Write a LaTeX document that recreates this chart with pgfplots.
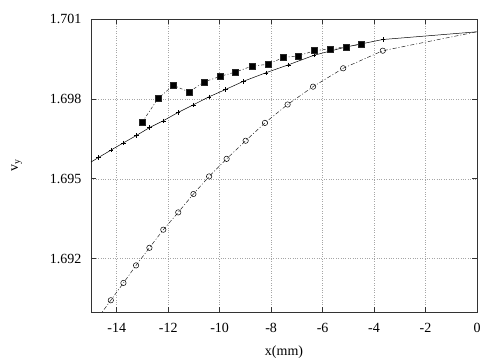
\documentclass[border=0pt]{standalone}
\usepackage{fontspec}
\setmainfont{Liberation Serif}
\usepackage{pgfplots}
\pgfplotsset{compat=1.18}
\begin{document}
\begin{tikzpicture}
\begin{axis}[
  scale only axis,
  width=386pt, height=293pt,
  xmin=-15, xmax=0, ymin=1.690, ymax=1.701,
  xtick={-14,-12,-10,-8,-6,-4,-2,0},
  xticklabels={-14,-12,-10,-8,-6,-4,-2,0},
  ytick={1.692,1.695,1.698,1.701},
  yticklabels={1.692,1.695,1.698,1.701},
  scaled y ticks=false,
  tick align=inside,
  major tick length=5pt,
  tick style={black!80, line width=0.8pt},
  axis line style={black!80, line width=0.8pt},
  grid=major,
  major grid style={gray!70, dotted, line width=0.5pt},
  /pgf/number format/assume math mode=true,
  tick label style={font=\fontsize{14}{16}\selectfont},
  xticklabel style={yshift=-8pt},
  yticklabel style={xshift=-6pt},
  label style={font=\fontsize{14}{16}\selectfont},
  xlabel={x(mm)},
  ylabel={v\textsubscript{y}},
  xlabel style={yshift=-6pt},
  ylabel style={yshift=21pt},
  clip=true,
]
% solid line with + marks
\addplot[black, line width=0.5pt, no marks] coordinates {
(-15,1.69563) (-14.71,1.69580) (-14.22,1.69608) (-13.74,1.69635) (-13.23,1.69663)
(-12.73,1.69692) (-12.19,1.69718) (-11.62,1.69749) (-11.02,1.69778) (-10.41,1.69808)
(-9.78,1.69835) (-9.08,1.69866) (-8.21,1.69898) (-7.33,1.69928) (-6.33,1.69964)
(-5.09,1.69995) (-3.66,1.70023) (0,1.70052)
};
\addplot[black, only marks, mark=+, mark size=2.2pt, mark options={line width=0.4pt}] coordinates {
(-14.71,1.69580) (-14.22,1.69608) (-13.74,1.69635) (-13.23,1.69663)
(-12.73,1.69692) (-12.19,1.69718) (-11.62,1.69749) (-11.02,1.69778) (-10.41,1.69808)
(-9.78,1.69835) (-9.08,1.69866) (-8.21,1.69898) (-7.33,1.69928) (-6.33,1.69964)
(-5.09,1.69995) (-3.66,1.70023)
};
% circles, dash-dot line
\addplot[black!85, line width=0.5pt, dash pattern=on 4pt off 2pt on 1pt off 2pt, no marks] coordinates {
(-14.7,1.68982) (-14.23,1.69044) (-13.74,1.69109) (-13.25,1.69175) (-12.73,1.69241)
(-12.19,1.69309) (-11.61,1.69374) (-11.02,1.69443) (-10.41,1.69509) (-9.73,1.69575)
(-8.99,1.69643) (-8.24,1.69710) (-7.36,1.69779) (-6.37,1.69846) (-5.20,1.69915)
(-3.66,1.69981) (0,1.70052)
};
\addplot[black, only marks, mark=o, mark size=2.7pt, mark options={line width=0.5pt, fill=white}] coordinates {
(-14.23,1.69044) (-13.74,1.69109) (-13.25,1.69175) (-12.73,1.69241)
(-12.19,1.69309) (-11.61,1.69374) (-11.02,1.69443) (-10.41,1.69509) (-9.73,1.69575)
(-8.99,1.69643) (-8.24,1.69710) (-7.36,1.69779) (-6.37,1.69846) (-5.20,1.69915)
(-3.66,1.69981)
};
% filled squares, dashed line
\addplot[black!85, line width=0.5pt, dash pattern=on 3pt off 2pt on 1pt off 2pt,
  mark=square*, mark size=3pt, mark options={solid, fill=black}] coordinates {
(-13.02,1.69711) (-12.40,1.69801) (-11.80,1.69851) (-11.19,1.69826) (-10.60,1.69864)
(-9.97,1.69885) (-9.38,1.69901) (-8.75,1.69923) (-8.13,1.69930) (-7.54,1.69955)
(-6.93,1.69962) (-6.31,1.69981) (-5.71,1.69988) (-5.10,1.69995) (-4.49,1.70006)
};
\end{axis}
\pgfresetboundingbox
\path[use as bounding box] ([xshift=-91pt,yshift=-48pt]current axis.south west) rectangle ([xshift=27pt,yshift=19pt]current axis.north east);
\end{tikzpicture}
\end{document}
